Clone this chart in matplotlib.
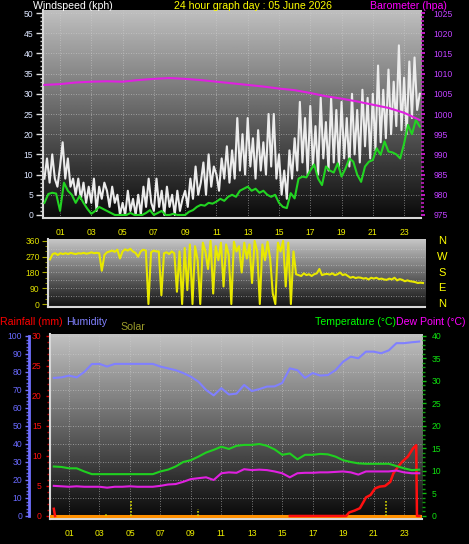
import numpy as np
import matplotlib
matplotlib.use('Agg')
import matplotlib.pyplot as plt
from matplotlib.ticker import MultipleLocator

plt.rcParams['font.family'] = ['Liberation Sans', 'DejaVu Sans']

# ---------------- data ----------------
# wind gust (kph), one value every 10 minutes from 00:00 to 24:00
gust_kph = [
    9, 14, 8, 15, 9, 7,
    12, 18, 9, 14, 7, 9,
    5, 9, 4, 8, 3, 7,
    3, 9, 1, 7, 4, 8,
    6, 2, 7, 3, 5, 0,
    3, 0, 6, 1, 4, 0,
    5, 0, 7, 2, 9, 3,
    1, 9, 2, 6, 0, 7,
    2, 5, 0, 6, 1, 4,
    6, 2, 9, 4, 12, 5,
    8, 13, 5, 15, 7, 12,
    10, 6, 14, 9, 17, 8,
    16, 9, 24, 11, 20, 10,
    24, 12, 19, 9, 21, 11,
    18, 10, 25, 12, 25, 9,
    15, 5, 11, 4, 16, 9,
    19, 11, 28, 13, 24, 10,
    27, 12, 22, 10, 29, 14,
    23, 11, 29, 13, 26, 12,
    28, 14, 24, 12, 30, 15,
    26, 13, 31, 17, 29, 14,
    30, 16, 37, 18, 31, 19,
    36, 20, 33, 22, 42, 21,
    34, 20, 38, 24, 39, 26,
    30]
# average wind (kph), every 15 minutes
avg_kph = [
    3, 5.2, 5.5, 5.3,
    1, 8, 6, 5,
    3, 4.7, 3, 1.5,
    0.3, 1, 2, 1.5,
    1, 0.5, 0, 0,
    0, 0, 0.5, 0,
    0, 0, 0.5, 1.2,
    0, 0.5, 1, 0,
    0, 0.3, 0, 0,
    0, 0.8, 1.2, 2,
    2.5, 2.3, 3, 2.8,
    3.3, 4, 3.5, 4.5,
    5, 4.5, 6, 6.5,
    7, 6, 6.5, 5.5,
    6, 5, 4.5, 5,
    3, 2, 1.7, 5.4,
    4.1, 9, 9.5, 9.3,
    11, 12.5, 9, 7.4,
    12, 11, 10.5, 12.8,
    9.5, 11.5, 14, 13.2,
    10, 8.2, 12, 13.2,
    13.6, 16.5, 14.9, 18.2,
    15.7, 15.5, 15, 14,
    17.7, 22.3, 20, 23.5,
    21.9]
# barometer (hPa), hourly
baro_hpa = [1007.2, 1007.4, 1007.8, 1008.0, 1008.1, 1008.0, 1008.4, 1008.7,
            1008.9, 1008.7, 1008.4, 1008.0, 1007.6, 1007.2, 1006.8, 1006.3,
            1005.9, 1005.2, 1004.4, 1003.8, 1003.1, 1002.3, 1001.5, 1000.3,
            998.5]
# wind direction (degrees), every 10 minutes
wind_dir = [
    255, 285, 290, 280, 290, 285,
    290, 285, 292, 288, 285, 290,
    288, 292, 287, 290, 295, 290,
    292, 290, 190, 280, 295, 300,
    305, 298, 310, 260, 300, 312,
    305, 315, 300, 292, 270, 300,
    310, 305, 0, 295, 305, 300,
    300, 50, 290, 295, 285, 300,
    290, 70, 300, 0, 320, 80,
    340, 0, 330, 250, 0, 350,
    300, 200, 360, 60, 330, 250,
    350, 100, 340, 280, 0, 355,
    300, 330, 180, 350, 260, 340,
    120, 360, 300, 0, 340, 250,
    355, 260, 60, 0, 350, 300,
    360, 100, 350, 0, 300, 170,
    165, 160, 175, 165, 170, 160,
    170, 175, 200, 165, 170, 172,
    168, 175, 165, 170, 180, 165,
    170, 160, 150, 155, 148, 152,
    150, 145, 148, 140, 150, 145,
    150, 142, 145, 140, 138, 145,
    140, 150, 135, 142, 138, 130,
    135, 130, 128, 125, 120, 122,
    120]
# half-hourly humidity (%), temperature and dew point (deg C)
humidity = [76.7, 77, 78, 77, 80, 84.4, 84.5, 83, 84.5, 84.5, 84.5, 84.5,
            84.5, 84.5, 83, 82, 81, 79.4, 77.4, 74.6, 70, 67, 71, 67.5,
            68, 72.8, 69.4, 70.5, 71.9, 72, 73.9, 82, 81, 76.7, 79.4, 78,
            78.3, 81, 85.7, 88.5, 87.6, 91.3, 91.3, 90.4, 92, 96, 96, 96.5,
            96.9]
temp_c = [11, 10.9, 10.6, 10.6, 9.9, 9.3, 9.3, 9.3, 9.3, 9.3, 9.3, 9.3,
          9.3, 9.3, 9.9, 10.3, 11, 12, 12.4, 13.2, 14.1, 14.7, 15.4, 14.9,
          15.6, 15.8, 15.8, 16, 15.6, 14.8, 13.6, 13.9, 12.6, 13.6, 13.6, 13.8,
          13.7, 13.2, 12.4, 12, 11.7, 11.6, 11.6, 11.6, 11.6, 11.1, 10.6, 10.2,
          10.3]
dew_c = [6.7, 6.6, 6.5, 6.6, 6.5, 6.5, 6.5, 6.3, 6.5, 6.5, 6.6, 6.5,
         6.5, 6.5, 6.7, 7, 7.1, 7.6, 8.2, 8.4, 8.6, 8.0, 9.5, 9.7,
         9.6, 10.4, 10.2, 10.3, 10.2, 9.9, 9.5, 8.6, 9.5, 9.6, 9.6, 9.7,
         9.7, 9.8, 9.9, 9.7, 9.2, 9.9, 9.9, 9.9, 9.9, 10.1, 9.7, 9.5,
         9.5]
# rainfall (mm)
rain_hours = [0.0, 0.08, 8.0, 15.5, 19.2, 19.4, 19.75, 20.1, 20.35, 20.5, 20.8,
              21.1, 21.4, 21.75, 22.1, 22.3, 22.6, 22.9, 23.25, 23.6, 23.8,
              23.85, 24.0]
rain_mm = [1.2, 0.0, np.nan, 0.0, 0.0, 0.6, 0.9, 1.3, 2.4, 3.1, 3.5,
           4.6, 4.9, 5.0, 5.7, 7.1, 8.2, 9.1, 9.9, 11.3, 11.8,
           0.0, 0.0]
# solar readings (drawn on rainfall scale)
solar_hours = [3.4, 5.1, 9.5, 21.8]
solar_vals = [0.4, 2.5, 1.2, 2.5]

hour_ticks = list(range(1, 24, 2))
hour_labels = ['%02d' % h for h in hour_ticks]
dir_ticks = [0, 90, 180, 270, 360]
dir_letters = ['N', 'E', 'S', 'W', 'N']

# ---------------- figure ----------------
W, H = 469, 544
fig = plt.figure(figsize=(W / 100, H / 100), dpi=100, facecolor='black')


def px_axes(l, t, r, b):
    return fig.add_axes([l / W, 1 - b / H, (r - l) / W, (b - t) / H])


def gradient(ax, top, bottom):
    x0, x1 = ax.get_xlim()
    y0, y1 = ax.get_ylim()
    g = np.linspace(top, bottom, 256).reshape(-1, 1)
    ax.imshow(g, cmap='gray', vmin=0, vmax=1, extent=[x0, x1, y0, y1],
              aspect='auto', zorder=0, interpolation='bilinear', origin='upper')
    ax.set_xlim(x0, x1)
    ax.set_ylim(y0, y1)


def style_frame(ax):
    for s in ['top', 'right']:
        ax.spines[s].set_visible(False)
    for s in ['left', 'bottom']:
        ax.spines[s].set_color('#d8d8d8')
        ax.spines[s].set_linewidth(1.5)


GRID = dict(color='#d0d0d0', lw=0.6, ls=(0, (1, 2)), alpha=0.7, zorder=1)
YEL = '#f0f000'

# ---- panel 1 : wind speed + barometer ----
ax1 = px_axes(43, 10, 421, 218)
ax1.set_facecolor('black')
ax1.set_xlim(-0.09, 24.08)
ax1.set_ylim(-0.75, 50.75)
gradient(ax1, 0.75, 0.04)
style_frame(ax1)
for v in range(5, 51, 5):
    ax1.axhline(v, **GRID)
for h in hour_ticks:
    ax1.axvline(h, **GRID)

t_gust = np.arange(len(gust_kph)) / 6.0
t_avg = np.arange(len(avg_kph)) / 4.0
t_baro = np.arange(len(baro_hpa))
ax1.plot(t_gust, gust_kph, color='#ececec', lw=1.5, zorder=3)
ax1.plot(t_avg, avg_kph, color='#22d422', lw=1.5, zorder=4)

ax1.yaxis.set_major_locator(MultipleLocator(5))
ax1.yaxis.set_minor_locator(MultipleLocator(1))
ax1.tick_params(axis='y', which='major', length=5, width=1, color='#e0e0e0',
                labelcolor='#dde6ff', labelsize=6.2, pad=2)
ax1.tick_params(axis='y', which='minor', length=2.5, width=1, color='#c8c8c8')
ax1.set_xticks(hour_ticks)
ax1.set_xticklabels(hour_labels)
ax1.tick_params(axis='x', length=0, labelcolor=YEL, labelsize=6.2, pad=7)

axb = ax1.twinx()
axb.set_ylim(975 - 0.75, 1025 + 0.75)
axb.plot(t_baro, baro_hpa, color='#e020e0', lw=1.5, zorder=5)
for s in axb.spines.values():
    s.set_visible(False)
axb.yaxis.set_major_locator(MultipleLocator(5))
axb.yaxis.set_minor_locator(MultipleLocator(1))
axb.tick_params(axis='y', which='major', length=3, width=1.2, color='#e020e0',
                labelcolor='#c040ff', labelsize=6.2, pad=6)
axb.tick_params(axis='y', which='minor', length=2, width=1.2, color='#c020c0')

# ---- panel 2 : wind direction ----
ax2 = px_axes(48, 239, 425, 307)
ax2.set_facecolor('black')
ax2.set_xlim(-0.13, 24.13)
ax2.set_ylim(-17, 371)
gradient(ax2, 0.78, 0.07)
style_frame(ax2)
for v in [45, 90, 135, 180, 225, 270, 315]:
    ax2.axhline(v, **GRID)
t_dir = np.arange(len(wind_dir)) / 6.0
ax2.plot(t_dir, wind_dir, color='#e8e800', lw=1.5, zorder=3)
ax2.set_yticks(dir_ticks)
ax2.yaxis.set_minor_locator(MultipleLocator(30))
ax2.tick_params(axis='y', which='major', length=4, color='#a8a800',
                labelcolor='#e0e000', labelsize=6.2, pad=2)
ax2.tick_params(axis='y', which='minor', length=2.5, color='#a8a800')
ax2.set_xticks([])
for v, letter in zip(dir_ticks, dir_letters):
    ypx = 304 - v * 63 / 360
    fig.text(442 / W, 1 - ypx / H, letter, color='#ffff00', fontsize=8,
             ha='center', va='center')

# ---- panel 3 : rain / humidity / temperature ----
ax3 = px_axes(50, 334, 422, 519)
ax3.set_facecolor('black')
ax3.set_xlim(-0.25, 24.18)
ax3.set_ylim(-1.67, 101.1)
gradient(ax3, 0.76, 0.03)
for s in ['top', 'right']:
    ax3.spines[s].set_visible(False)
ax3.spines['bottom'].set_color('#d8d8d8')
ax3.spines['bottom'].set_linewidth(1.5)
ax3.spines['left'].set_position(('outward', 15.1))
ax3.spines['left'].set_color('#7070ff')
ax3.spines['left'].set_linewidth(2)
ax3.spines['left'].set_bounds(0, 100)
for v in range(10, 101, 10):
    ax3.axhline(v, **GRID)
for h in hour_ticks:
    ax3.axvline(h, **GRID)
t_half = np.arange(len(humidity)) / 2.0
ax3.plot(t_half, humidity, color='#8080ff', lw=1.5, zorder=3)
ax3.yaxis.set_major_locator(MultipleLocator(10))
ax3.yaxis.set_minor_locator(MultipleLocator(2))
ax3.tick_params(axis='y', which='major', length=3, width=1, color='#7070ff',
                labelcolor='#6a6aff', labelsize=6.2, pad=2)
ax3.tick_params(axis='y', which='minor', length=2, width=1, color='#6060e0')
ax3.set_xticks(hour_ticks)
ax3.set_xticklabels(hour_labels)
ax3.tick_params(axis='x', length=0, labelcolor=YEL, labelsize=6.2, pad=7)

axr = ax3.twinx()
axr.set_ylim(-0.5, 30.333)
for s in axr.spines.values():
    s.set_visible(False)
axr.spines['left'].set_visible(True)
axr.spines['left'].set_color('#d8d8d8')
axr.spines['left'].set_linewidth(1.5)
axr.yaxis.tick_left()
axr.yaxis.set_major_locator(MultipleLocator(5))
axr.yaxis.set_minor_locator(MultipleLocator(1))
axr.tick_params(axis='y', which='major', length=3, width=1, color='#e00000',
                labelcolor='#ff1010', labelsize=6.2, pad=3)
axr.tick_params(axis='y', which='minor', length=2, width=1, color='#c00000')
axr.axhline(0, color='#ff9000', lw=2.2, zorder=3)
axr.vlines(solar_hours, 0, solar_vals, colors='#d8d800', lw=1.2,
           linestyles=(0, (1, 1)), zorder=4)
axr.plot(rain_hours, rain_mm, color='#ff1010', lw=1.8, zorder=6)

axt = ax3.twinx()
axt.set_ylim(-0.667, 40.444)
for s in axt.spines.values():
    s.set_visible(False)
axt.plot(t_half, temp_c, color='#20d020', lw=1.5, zorder=5)
axt.plot(t_half, dew_c, color='#e020e0', lw=1.5, zorder=5)
axt.yaxis.set_major_locator(MultipleLocator(5))
axt.yaxis.set_minor_locator(MultipleLocator(1))
axt.tick_params(axis='y', which='major', length=3, width=1, color='#10c010',
                labelcolor='#10e010', labelsize=6.2, pad=4)
axt.tick_params(axis='y', which='minor', length=2, width=1, color='#10a010')

# ---- header texts ----
FS = 7.6
def ftext(xpx, ypx, s, color, ha='left'):
    fig.text(xpx / W, 1 - ypx / H, s, color=color, fontsize=FS, ha=ha, va='baseline')

ftext(33, 9, 'Windspeed (kph)', 'white')
ftext(253, 9, '24 hour graph day : 05 June 2026', '#ffff00', ha='center')
ftext(447, 9, 'Barometer (hpa)', '#ff00ff', ha='right')
ftext(0, 325, 'Rainfall (mm)', '#ff0000')
ftext(66, 325, 'Humidity', '#8080ff')
ftext(120, 329.5, 'Solar', '#9b9b2a')
ftext(315, 325, 'Temperature (\u00b0C)', '#00ff00')
ftext(396, 325, 'Dew Point (\u00b0C)', '#ff00ff')

fig.savefig('out.png', dpi=100, facecolor='black')
